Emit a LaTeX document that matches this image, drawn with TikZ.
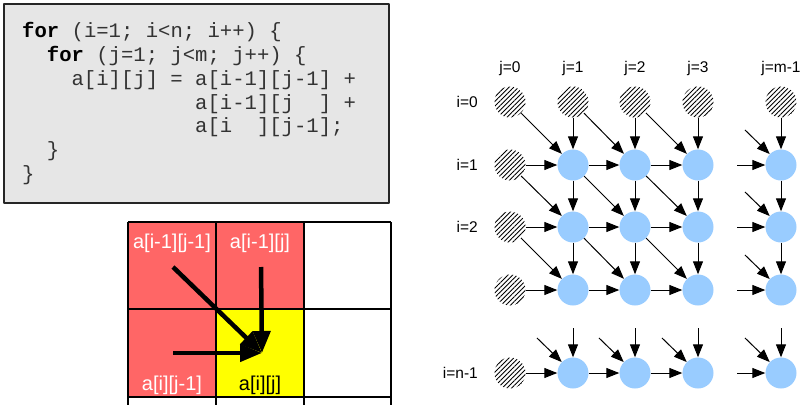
\documentclass[tikz,border=0pt]{standalone}
\usepackage{fontspec}
\setmainfont{Liberation Sans}
\newfontfamily\codefont{Liberation Mono}
\usetikzlibrary{positioning,arrows.meta,patterns.meta}
\definecolor{cellred}{RGB}{255,102,102}
\definecolor{cellyellow}{RGB}{255,255,0}
\definecolor{nodeblue}{RGB}{153,204,255}
\definecolor{boxgray}{RGB}{230,230,230}
\begin{document}
\begin{tikzpicture}[x=1pt, y=-1pt, line join=round, >={Triangle[length=13pt,width=10pt]},
  code/.style={anchor=base west, inner sep=0pt, font=\codefont\fontsize{20.6}{24}\selectfont, text=black!80},
  cell/.style={anchor=base, inner sep=0pt, font=\fontsize{20}{24}\selectfont, text=white},
  big/.style={line width=4.5pt, -{Triangle[length=22pt,width=17pt]}},
  done/.style={circle, minimum size=31pt, inner sep=0pt, pattern={Lines[angle=45,distance=3.3pt,line width=0.9pt]}},
  todo/.style={circle, minimum size=31pt, inner sep=0pt, fill=nodeblue},
  idx/.style={font=\fontsize{15.5}{18}\selectfont, inner sep=0pt},
  dep/.style={->, line width=1pt}]
\useasboundingbox (0,0) rectangle (804,405);

% loop nest
\draw[line width=2pt, draw=black!85, fill=boxgray] (4,4) rectangle (389,203);
\node[code] (l1) at (22,37) {\textbf{\color{black}for} (i=1; i<n; i++) \{};
\node[code] (l2) at (46.7,61) {\textbf{\color{black}for} (j=1; j<m; j++) \{};
\node[code] (l3) at (71.4,85) {a[i][j] = a[i-1][j-1] +};
\node[code] (l4) at (195,109) {a[i-1][j\ \ ] +};
\node[code] (l5) at (195,132) {a[i\ \ ][j-1];};
\node[code] (l6) at (46.7,156) {\}};
\node[code] (l7) at (22,180) {\}};

% array cells
\fill[cellred] (128,222) rectangle (304,309);
\fill[cellred] (128,309) rectangle (216,397);
\fill[cellyellow] (216,309) rectangle (304,397);
\foreach \x in {128,216,304,391} \draw[line width=1.5pt] (\x,222) -- (\x,405);
\foreach \y in {222,309,397} \draw[line width=1.5pt] (128,\y) -- (391,\y);
\node[cell] (nw) at (172,248) {a[i-1][j-1]};
\node[cell] (nn) at (260,248) {a[i-1][j]};
\node[cell] (ww) at (172,390) {a[i][j-1]};
\node[cell, text=black] (cc) at (260,390) {a[i][j]};
\coordinate (from-nw) at (173,267);
\coordinate (from-nn) at (261,267);
\coordinate (from-ww) at (173,353);
\coordinate (to-cc) at (262,353);
\draw[big] (from-nw) -- (to-cc);
\draw[big] (from-nn) -- (to-cc);
\draw[big] (from-ww) -- (to-cc);

% dependence graph
\foreach \c/\x/\lab in {0/510/j=0,1/573/j=1,2/635/j=2,3/698/j=3,4/781/j=m-1}
  \node[idx] (col\c) at (\x,68) {\lab};
\foreach \r/\y/\lab in {0/102/i=0,1/165/i=1,2/227/i=2,4/373/i=n-1}
  \node[idx, anchor=east] (row\r) at (478,\y) {\lab};
\foreach \c/\x in {0/510,1/573,2/635,3/698,4/781}
  \node[done] (n-0-\c) at (\x,102) {};
\foreach \r/\y in {1/165,2/227,3/290,4/373} {
  \node[done] (n-\r-0) at (510,\y) {};
  \foreach \c/\x in {1/573,2/635,3/698,4/781}
    \node[todo] (n-\r-\c) at (\x,\y) {};
}
\foreach \r/\p in {1/0,2/1,3/2} {
  \foreach \c/\b in {1/0,2/1,3/2} \draw[dep] (n-\p-\b) -- (n-\r-\c);
  \foreach \c in {1,...,4} \draw[dep] (n-\p-\c) -- (n-\r-\c);
}
\foreach \r in {1,...,4}
  \foreach \c/\b in {1/0,2/1,3/2} \draw[dep] (n-\r-\b) -- (n-\r-\c);
% cut-off edges
\foreach \r in {1,...,4} {
  \coordinate[left=28pt of n-\r-4] (h-\r);
  \coordinate[above left=24pt and 25pt of n-\r-4] (d-\r);
  \draw[dep] (h-\r) -- (n-\r-4);
  \draw[dep] (d-\r) -- (n-\r-4);
}
\foreach \c in {1,...,4} {
  \coordinate[above=29pt of n-4-\c] (v-\c);
  \draw[dep] (v-\c) -- (n-4-\c);
}
\foreach \c in {1,2,3} {
  \coordinate[above left=24pt and 25pt of n-4-\c] (e-\c);
  \draw[dep] (e-\c) -- (n-4-\c);
}
\end{tikzpicture}
\end{document}
